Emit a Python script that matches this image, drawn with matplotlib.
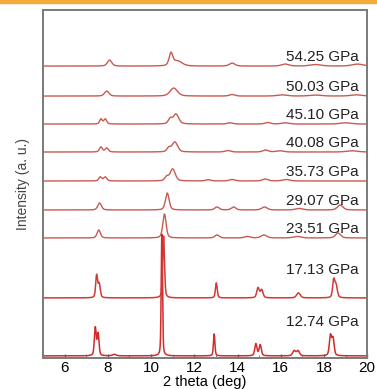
import numpy as np
import matplotlib.pyplot as plt
from matplotlib.patches import Rectangle

plt.rcParams['font.family'] = ['Liberation Sans', 'DejaVu Sans']

# pressures, bottom to top
labels = ['12.74 GPa', '17.13 GPa', '23.51 GPa', '29.07 GPa', '35.73 GPa',
          '40.08 GPa', '45.10 GPa', '50.03 GPa', '54.25 GPa']
# vertical stacking offsets (a.u.)
offsets = [2, 60, 120, 148, 177, 206, 234, 262, 292]

# peak lists: position (deg), height (a.u.), half width (deg)
peak_pos = [
    [7.42, 7.55, 8.3, 10.50, 12.92, 14.85, 15.05, 16.62, 16.80, 18.30, 18.42],
    [7.48, 7.60, 10.58, 13.02, 14.95, 15.12, 16.82, 18.45, 18.56],
    [7.58, 10.62, 13.05, 14.45, 15.22, 16.75, 18.65],
    [7.62, 10.75, 13.05, 13.82, 15.25, 16.85, 18.75],
    [7.65, 7.88, 10.72, 11.00, 12.65, 13.75, 15.28, 16.25],
    [7.68, 7.95, 10.82, 11.10, 13.55, 15.30, 15.95, 19.30],
    [7.68, 7.88, 10.88, 11.15, 13.65, 15.40, 16.20, 19.00],
    [7.95, 11.05, 13.75, 16.05, 17.60, 19.50],
    [8.08, 10.92, 11.22, 13.75, 16.20, 17.60, 19.55],
]
peak_height = [
    [28, 22, 1.5, 122, 22, 12, 11, 5, 5, 20, 17],
    [22, 14, 62, 15, 10, 8, 5, 17, 12],
    [8, 24, 3, 1.5, 3, 1.5, 5],
    [7, 17, 3, 3, 3, 1.5, 5],
    [4, 4, 4, 12, 1.2, 1.5, 2, 1.5],
    [5, 4, 4, 10, 1.5, 2, 1.2, 1.2],
    [5, 5, 5, 10, 1.2, 1.5, 1.2, 1.2],
    [5, 8, 1.5, 1.2, 1.0, 1.2],
    [6, 12, 5, 3, 2, 1.5, 2],
]
peak_width = [
    [0.05, 0.05, 0.1, 0.035, 0.04, 0.06, 0.06, 0.08, 0.08, 0.06, 0.06],
    [0.05, 0.06, 0.05, 0.05, 0.07, 0.07, 0.1, 0.06, 0.07],
    [0.09, 0.09, 0.12, 0.15, 0.15, 0.2, 0.14],
    [0.1, 0.1, 0.12, 0.12, 0.15, 0.2, 0.15],
    [0.08, 0.09, 0.1, 0.14, 0.15, 0.15, 0.15, 0.2],
    [0.08, 0.09, 0.1, 0.15, 0.15, 0.15, 0.2, 0.3],
    [0.07, 0.08, 0.1, 0.15, 0.15, 0.15, 0.2, 0.3],
    [0.12, 0.2, 0.15, 0.25, 0.3, 0.3],
    [0.12, 0.1, 0.25, 0.15, 0.2, 0.3, 0.3],
]
label_gap = [27, 21, 2, 2, 2, 2, 2, 2, 2]
colors = ['#d22b2b', '#d23a36'] + ['#c85a52'] * 7

two_theta = np.linspace(5, 20, 3000)


def pattern(pos, hgt, wid):
    y = np.zeros_like(two_theta)
    for p, h, w in zip(pos, hgt, wid):
        lor = 1.0 / (1.0 + ((two_theta - p) / w) ** 2)
        gau = np.exp(-np.log(2) * ((two_theta - p) / w) ** 2)
        y += h * (0.4 * lor + 0.6 * gau)
    return y


fig = plt.figure(figsize=(3.77, 3.89), dpi=100)
fig.patches.append(Rectangle((0, 0.992), 1, 0.008, transform=fig.transFigure,
                             color='#f2ab3a', zorder=0))
ax = fig.add_axes([0.114, 0.08, 0.86, 0.894])

for i in range(len(labels)):
    y = offsets[i] + pattern(peak_pos[i], peak_height[i], peak_width[i])
    ax.plot(two_theta, y, color=colors[i], lw=1.1 if i < 2 else 1.0)
    ax.text(19.62, offsets[i] + label_gap[i], labels[i], ha='right', va='bottom',
            fontsize=11, color='#222222')

ax.set_xlim(5, 20)
ax.set_ylim(0, 348)
ax.set_xticks(range(6, 21, 2))
ax.set_xticks(range(5, 21), minor=True)
ax.set_yticks([])
ax.tick_params(axis='x', direction='in', length=3, width=1, color='#666666',
               labelsize=11, pad=2)
ax.tick_params(axis='x', which='minor', direction='in', length=2, color='#666666')
for s in ax.spines.values():
    s.set_color('#7a7a7a')
    s.set_linewidth(1.4)
ax.set_xlabel('2 theta (deg)', fontsize=10.5, labelpad=0)
ax.set_ylabel('Intensity (a. u.)', fontsize=10, color='#444444', labelpad=9)

fig.savefig('out.png', dpi=100)
